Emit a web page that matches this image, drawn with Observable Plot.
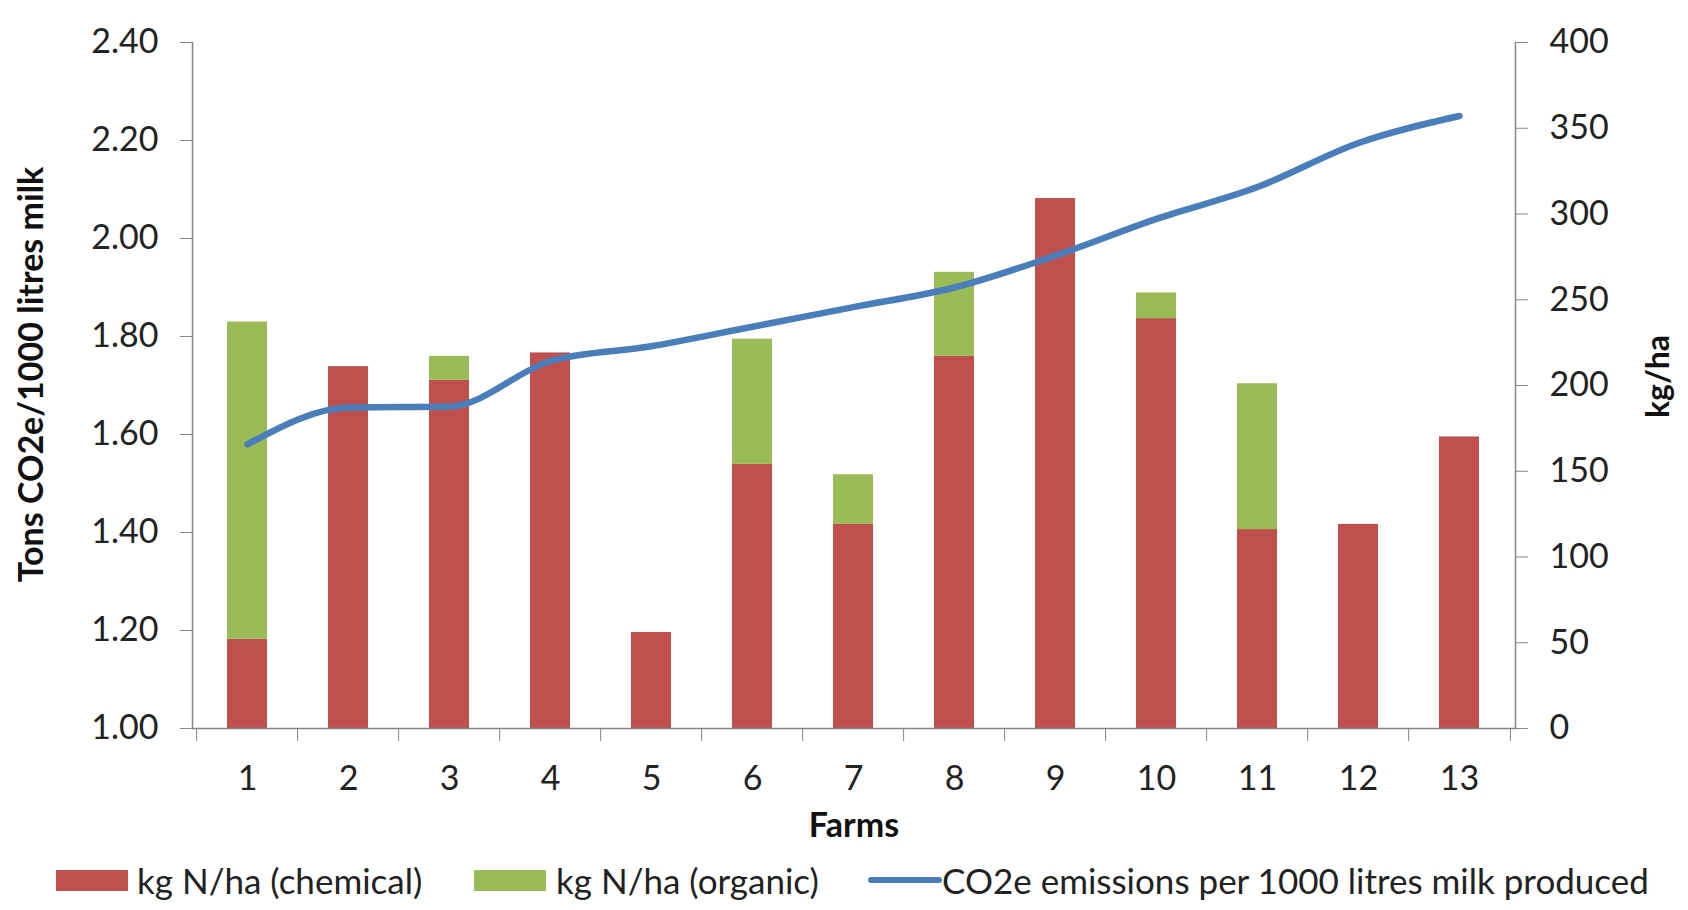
<!DOCTYPE html>
<html><head><meta charset="utf-8">
<script src="https://cdn.jsdelivr.net/npm/d3@7"></script>
<script src="https://cdn.jsdelivr.net/npm/@observablehq/plot@0.6"></script>
<style>
body{margin:0;background:#fff;font-family:Lato,sans-serif;}
#legend{position:relative;width:1688px;height:60px;font-size:35px;color:#222;}
#legend .sw{position:absolute;}
#legend .lt{position:absolute;top:30px;transform:translateY(-50%);white-space:nowrap;}
</style>
</head><body>
<div id="chart"></div>
<div id="legend"></div>
<script>
const farms = ["1","2","3","4","5","6","7","8","9","10","11","12","13"];
const chemical = [52, 211, 203, 219, 56, 154, 119, 217, 309, 239, 116, 119, 170];
const organic  = [185, 0, 14, 0, 0, 73, 29, 49, 0, 15, 85, 0, 0];
const co2      = [1.58, 1.655, 1.657, 1.75, 1.78, 1.82, 1.86, 1.90, 1.965, 2.04, 2.105, 2.195, 2.25];
const leftTicks  = [1.00, 1.20, 1.40, 1.60, 1.80, 2.00, 2.20, 2.40];
const rightTicks = [0, 50, 100, 150, 200, 250, 300, 350, 400];
const seriesNames = ["kg N/ha (chemical)", "kg N/ha (organic)", "CO2e emissions per 1000 litres milk produced"];
const colors = ["#C0504D", "#9BBB59", "#4A7EBB"];

const W = 1688, H = 850, mL = 192, mR = 173, mT = 42, mB = 122;
const step = (W - mL - mR) / farms.length;
const toKg = v => (v - 1) / 1.4 * 400;
const fromKg = k => 1 + k * 1.4 / 400;

const barData = [];
farms.forEach((f, i) => {
  barData.push({farm: f, type: "chemical", value: chemical[i]});
  barData.push({farm: f, type: "organic", value: organic[i]});
});
const lineData = farms.map((f, i) => ({farm: f, co2: co2[i]}));

const axisGrey = "#868686";
const chart = Plot.plot({
  width: W, height: H,
  marginLeft: mL, marginRight: mR, marginTop: mT, marginBottom: mB,
  style: {fontFamily: "Lato, sans-serif", fontSize: "34px", color: "#222", background: "#fff"},
  x: {domain: farms, paddingInner: 0.6, paddingOuter: 0.3},
  y: {domain: [0, 400]},
  color: {domain: ["chemical", "organic"], range: [colors[0], colors[1]]},
  marks: [
    Plot.barY(barData, {x: "farm", y: "value", fill: "type"}),
    Plot.line(lineData, {x: "farm", y: d => toKg(d.co2), curve: "monotone-x", stroke: colors[2], strokeWidth: 6.5, strokeLinecap: "round", strokeLinejoin: "round"}),
    Plot.frame({anchor: "left", stroke: axisGrey, strokeWidth: 1.5}),
    Plot.frame({anchor: "right", stroke: axisGrey, strokeWidth: 1.5}),
    Plot.frame({anchor: "bottom", stroke: axisGrey, strokeWidth: 1.5}),
    Plot.axisY({anchor: "left", ticks: leftTicks.map(toKg), tickSize: 12, tickPadding: 22,
      tickFormat: d => fromKg(d).toFixed(2), stroke: axisGrey, fill: "#222", label: null}),
    Plot.axisY({anchor: "right", ticks: rightTicks, tickSize: 12, tickPadding: 22,
      tickFormat: d => String(d), stroke: axisGrey, fill: "#222", label: null}),
    Plot.axisX({anchor: "bottom", tickSize: 0, tickPadding: 37, fill: "#222", label: null}),
    Plot.axisX({anchor: "bottom", tickSize: 13, tickFormat: () => "", dx: -step / 2, stroke: axisGrey, label: null}),
    Plot.axisX({anchor: "bottom", ticks: ["13"], tickSize: 13, tickFormat: () => "", dx: step / 2, stroke: axisGrey, label: null}),
    Plot.text(["Tons CO2e/1000 litres milk"], {text: d => d, frameAnchor: "left", textAnchor: "middle", dx: -160, dy: -11, rotate: -90, fontWeight: "bold", fontSize: 34, fill: "#111"}),
    Plot.text(["kg/ha"], {text: d => d, frameAnchor: "right", textAnchor: "middle", dx: 143, dy: -9, rotate: -90, fontWeight: "bold", fontSize: 32, fill: "#111"}),
    Plot.text(["Farms"], {text: d => d, frameAnchor: "bottom", dy: 108, fontWeight: "bold", fontSize: 34, fill: "#111"})
  ]
});
document.getElementById("chart").appendChild(chart);

const legend = document.getElementById("legend");
const items = [
  {sw: {left: 56, top: 20, width: 72, height: 21}, text: 137},
  {sw: {left: 474, top: 20, width: 72, height: 21}, text: 556},
  {sw: {left: 868, top: 27, width: 74, height: 6}, text: 942}
];
items.forEach((it, i) => {
  const s = document.createElement("div");
  s.className = "sw";
  s.style.left = it.sw.left + "px"; s.style.top = it.sw.top + "px";
  s.style.width = it.sw.width + "px"; s.style.height = it.sw.height + "px";
  s.style.background = colors[i];
  if (i === 2) s.style.borderRadius = "3px";
  legend.appendChild(s);
  const t = document.createElement("div");
  t.className = "lt";
  t.style.left = it.text + "px";
  t.textContent = seriesNames[i];
  legend.appendChild(t);
});
</script>
</body></html>
